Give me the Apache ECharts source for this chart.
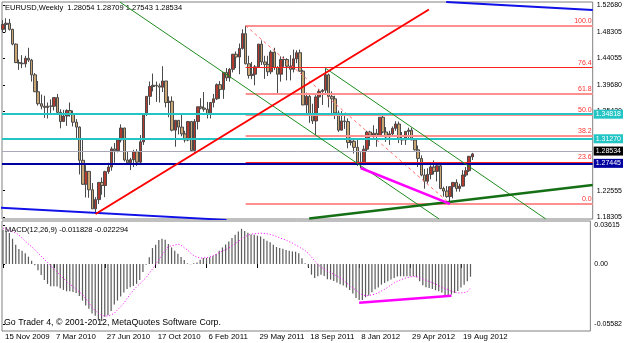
<!DOCTYPE html>
<html><head><meta charset="utf-8">
<script src="https://cdn.jsdelivr.net/npm/echarts@6/dist/echarts.min.js"></script>
<style>html,body{margin:0;padding:0;background:#fff}#c{width:625px;height:343px}</style>
</head><body><div id="c"></div>
<script>
// ---- weekly EURUSD candles, bar 0 = 15 Nov 2009 ----
const opens = [
1.4880,1.4960,1.4980,1.4880,1.4640,1.4340,1.4330,1.4320,1.4410,1.4380,
1.4140,1.3865,1.3670,1.3630,1.3610,1.3630,1.3630,1.3770,1.3530,1.3380,
1.3470,1.3560,1.3510,1.3370,1.3290,1.2750,1.2360,1.2570,1.2270,1.1960,
1.2110,1.2390,1.2340,1.2565,1.2640,1.2935,1.2905,1.3080,1.3275,1.2755,
1.2710,1.2760,1.2890,1.2720,1.3050,1.3495,1.3790,1.3950,1.3970,1.3960,
1.3940,1.4040,1.3690,1.3710,1.3240,1.3400,1.3290,1.3180,1.3080,1.3380,
1.2910,1.3380,1.3620,1.3600,1.3580,1.3500,1.3690,1.3750,1.3980,1.3900,
1.4180,1.4090,1.4230,1.4475,1.4430,1.4570,1.4810,1.4320,1.4130,1.4150,
1.4270,1.4640,1.4350,1.4310,1.4190,1.4510,1.4260,1.4150,1.4390,1.4390,
1.4280,1.4230,1.4400,1.4500,1.4200,1.3650,1.3790,1.3500,1.3390,1.3780,
1.3870,1.3890,1.4140,1.3790,1.3750,1.3520,1.3240,1.3390,1.3380,1.3040,
1.3060,1.2960,1.2720,1.2680,1.2930,1.3210,1.3160,1.3190,1.3150,1.3450,
1.3210,1.3130,1.3180,1.3270,1.3340,1.3100,1.3080,1.3220,1.3240,1.3080,
1.2920,1.2780,1.2510,1.2410,1.2520,1.2640,1.2570,1.2660,1.2290,1.2250,
1.2160,1.2320,1.2390,1.2290,1.2330,1.2510,1.2580,1.28054];
const highs = [
1.5030,1.5060,1.5050,1.4890,1.4650,1.4390,1.4460,1.4450,1.4580,1.4400,
1.4170,1.4040,1.3820,1.3800,1.3690,1.3740,1.3770,1.3830,1.3580,1.3570,
1.3580,1.3690,1.3560,1.3420,1.3300,1.3090,1.2670,1.2570,1.2380,1.2150,
1.2390,1.2470,1.2580,1.2710,1.2970,1.3030,1.3100,1.3335,1.3280,1.2900,
1.2790,1.2920,1.2930,1.3160,1.3500,1.3790,1.4030,1.4160,1.4030,1.4000,
1.4280,1.4040,1.3790,1.3790,1.3400,1.3400,1.3500,1.3230,1.3390,1.3390,
1.3420,1.3620,1.3760,1.3860,1.3700,1.3700,1.3830,1.4000,1.4040,1.4180,
1.4250,1.4250,1.4480,1.4520,1.4650,1.4880,1.4940,1.4450,1.4350,1.4300,
1.4640,1.4700,1.4450,1.4450,1.4540,1.4580,1.4280,1.4440,1.4440,1.4410,
1.4460,1.4550,1.4540,1.4550,1.4220,1.3850,1.3820,1.3670,1.3810,1.3910,
1.3910,1.4248,1.4160,1.3870,1.3800,1.3560,1.3550,1.3480,1.3430,1.3120,
1.3080,1.3080,1.2880,1.2990,1.3230,1.3230,1.3320,1.3260,1.3450,1.3486,
1.3290,1.3230,1.3300,1.3385,1.3380,1.3210,1.3220,1.3280,1.3280,1.3110,
1.2990,1.2830,1.2610,1.2620,1.2670,1.2747,1.2690,1.2690,1.2320,1.2330,
1.2320,1.2390,1.2440,1.2370,1.2590,1.2640,1.2820,1.28709];
const lows = [
1.4830,1.4830,1.4860,1.4620,1.4330,1.4220,1.4250,1.4260,1.4350,1.4030,
1.3860,1.3640,1.3580,1.3440,1.3430,1.3500,1.3560,1.3520,1.3270,1.3380,
1.3310,1.3460,1.3300,1.3110,1.2520,1.2350,1.2145,1.2140,1.1960,1.1876,
1.2040,1.2190,1.2150,1.2530,1.2580,1.2710,1.2880,1.3040,1.2730,1.2700,
1.2590,1.2640,1.2660,1.2690,1.3000,1.3470,1.3650,1.3870,1.3700,1.3690,
1.3860,1.3610,1.3450,1.3220,1.2970,1.3170,1.3140,1.3040,1.3060,1.2890,
1.2860,1.3250,1.3580,1.3540,1.3430,1.3430,1.3610,1.3730,1.3750,1.3750,
1.4040,1.4030,1.4180,1.4250,1.4150,1.4550,1.4310,1.4080,1.4070,1.3970,
1.4260,1.4300,1.4075,1.4120,1.4150,1.4220,1.3835,1.4030,1.4270,1.4050,
1.4050,1.4180,1.4330,1.4190,1.3650,1.3490,1.3360,1.3340,1.3145,1.3600,
1.3650,1.3840,1.3610,1.3480,1.3420,1.3210,1.3240,1.3260,1.2945,1.2990,
1.2860,1.2660,1.2624,1.2670,1.2900,1.2980,1.3100,1.2970,1.3150,1.3190,
1.3050,1.3000,1.3140,1.3230,1.3030,1.3000,1.3000,1.3110,1.3100,1.2910,
1.2640,1.2490,1.2288,1.2370,1.2440,1.2520,1.2406,1.2280,1.2160,1.2140,
1.2042,1.2130,1.2240,1.2240,1.2320,1.2480,1.2560,1.27543];
const closes = [
1.4960,1.4980,1.4880,1.4640,1.4340,1.4330,1.4320,1.4410,1.4380,1.4140,
1.3865,1.3670,1.3630,1.3610,1.3630,1.3630,1.3770,1.3530,1.3380,1.3470,
1.3560,1.3510,1.3370,1.3290,1.2750,1.2360,1.2570,1.2270,1.1960,1.2110,
1.2390,1.2340,1.2565,1.2640,1.2935,1.2905,1.3080,1.3275,1.2755,1.2710,
1.2760,1.2890,1.2720,1.3050,1.3495,1.3790,1.3950,1.3970,1.3960,1.3940,
1.4040,1.3690,1.3710,1.3240,1.3400,1.3290,1.3180,1.3080,1.3380,1.2910,
1.3380,1.3620,1.3600,1.3580,1.3500,1.3690,1.3750,1.3980,1.3900,1.4180,
1.4090,1.4230,1.4475,1.4430,1.4570,1.4810,1.4320,1.4130,1.4150,1.4270,
1.4640,1.4350,1.4310,1.4190,1.4510,1.4260,1.4150,1.4390,1.4390,1.4280,
1.4230,1.4400,1.4500,1.4200,1.3650,1.3790,1.3500,1.3390,1.3780,1.3870,
1.3890,1.4140,1.3790,1.3750,1.3520,1.3240,1.3390,1.3380,1.3040,1.3060,
1.2960,1.2720,1.2680,1.2930,1.3210,1.3160,1.3190,1.3150,1.3450,1.3210,
1.3130,1.3180,1.3270,1.3340,1.3100,1.3080,1.3220,1.3240,1.3080,1.2920,
1.2780,1.2510,1.2410,1.2520,1.2640,1.2570,1.2660,1.2290,1.2250,1.2160,
1.2320,1.2390,1.2290,1.2330,1.2510,1.2580,1.2815,1.28534];

// ---- MACD(12,26,9) main (histogram) and signal ----
const macdMain = [
.0318,.0309,.0287,.0235,.0179,.0139,.0124,.0099,.0068,.0031,
-.0012,-.0059,-.0102,-.0148,-.0185,-.0207,-.0207,-.0210,-.0226,-.0241,
-.0253,-.0253,-.0260,-.0269,-.0297,-.0340,-.0386,-.0417,-.0460,-.0482,
-.0519,-.0531,-.0491,-.0476,-.0436,-.0377,-.0340,-.0303,-.0266,-.0232,
-.0216,-.0204,-.0185,-.0148,-.0074,-.0006,.0062,.0148,.0179,.0222,
.0235,.0226,.0185,.0154,.0124,.0096,.0065,.0037,.0006,-.0003,
.0006,.0015,.0040,.0056,.0056,.0062,.0074,.0093,.0124,.0154,
.0182,.0210,.0241,.0272,.0303,.0327,.0306,.0290,.0275,.0272,
.0263,.0256,.0235,.0216,.0201,.0179,.0158,.0148,.0142,.0130,
.0124,.0117,.0114,.0099,.0053,.0006,-.0030,-.0099,-.0130,-.0114,
-.0099,-.0111,-.0142,-.0145,-.0158,-.0173,-.0188,-.0201,-.0219,-.0241,
-.0275,-.0315,-.0334,-.0334,-.0309,-.0293,-.0263,-.0235,-.0219,-.0192,
-.0176,-.0161,-.0145,-.0130,-.0117,-.0114,-.0114,-.0114,-.0114,-.0114,
-.0124,-.0161,-.0198,-.0216,-.0222,-.0232,-.0244,-.0253,-.0266,-.0287,
-.0297,-.0284,-.0269,-.0250,-.0219,-.0192,-.0161,-.011828];
const macdSignal = [
.0334,.0324,.0312,.0300,.0290,.0269,.0241,.0213,.0185,.0161,
.0133,.0102,.0074,.0043,.0015,-.0015,-.0046,-.0074,-.0105,-.0133,
-.0164,-.0185,-.0210,-.0235,-.0260,-.0284,-.0321,-.0362,-.0402,-.0433,
-.0460,-.0476,-.0485,-.0482,-.0473,-.0457,-.0426,-.0396,-.0365,-.0321,
-.0281,-.0244,-.0213,-.0185,-.0155,-.0127,-.0087,-.0046,-.0006,.0040,
.0083,.0124,.0161,.0170,.0176,.0185,.0173,.0151,.0130,.0102,
.0077,.0065,.0056,.0056,.0059,.0065,.0077,.0090,.0105,.0121,
.0133,.0148,.0170,.0188,.0210,.0232,.0253,.0266,.0278,.0281,
.0284,.0287,.0284,.0281,.0275,.0266,.0256,.0244,.0232,.0222,
.0207,.0195,.0176,.0161,.0142,.0124,.0099,.0065,.0028,-.0003,
-.0028,-.0049,-.0065,-.0080,-.0096,-.0111,-.0127,-.0148,-.0176,-.0201,
-.0222,-.0244,-.0269,-.0287,-.0294,-.0294,-.0287,-.0281,-.0266,-.0250,
-.0235,-.0216,-.0195,-.0176,-.0161,-.0148,-.0136,-.0127,-.0121,-.0114,
-.0117,-.0127,-.0139,-.0151,-.0164,-.0173,-.0185,-.0201,-.0216,-.0229,
-.0241,-.0253,-.0263,-.0269,-.0269,-.0266,-.0256,-.022294];

// ---- axis labels ----
const dateLabelBars = [0,16,32,48,64,80,96,112,128,144];
const dateLabels = ['15 Nov 2009','7 Mar 2010','27 Jun 2010','17 Oct 2010','6 Feb 2011','29 May 2011','18 Sep 2011','8 Jan 2012','29 Apr 2012','19 Aug 2012'];
const priceTicks = [1.52680,1.48305,1.44055,1.39680,1.35430,1.31055,1.26805,1.22555,1.18305];
const macdTicks = [0.03615,0,-0.05582];

// ---- chart objects (bar index, price) ----
const fibAnchors = [[76,1.4940],[140,1.2042]];
const fibLevelNames = ['100.0','76.4','61.8','50.0','38.2','23.6','0.0'];
const fibLevelPct = [100,76.4,61.8,50,38.2,23.6,0];
const cyanLevels = [1.34818,1.31270];
const navyLevel = 1.27445;
const bidLevel = 1.28534;
const redTrend = [[29,1.1876],[133.4,1.5203]];
const blueUpper = [[138.8,1.5325],[184.7,1.5195]];
const blueLower = [[-1,1.1979],[70,1.1780]];
const greenA = [[36.6,1.5325],[136.6,1.1795]];
const greenB = [[101,1.4248],[170,1.1795]];
const greenC = [[95.9,1.1803],[184.7,1.2348]];
const magentaPrice = [[112,1.2624],[140,1.2042]];
const magentaMacd = [[112,-0.0360],[141,-0.0295]];

const XMIN = -0.3125, XMAX = 184.69;
const FONT = 'Liberation Sans';
const candleData = opens.map((o,i)=>[i,o,closes[i],lows[i],highs[i]]);
const fibLo = fibAnchors[1][1], fibHi = fibAnchors[0][1];
const fibPrices = fibLevelPct.map(p=>fibLo+(fibHi-fibLo)*p/100);
const fibStyle = ['#ff9090','#ff2020','#ff9090','#ff9090','#ff9090','#ff2020','#ff9090'];
const fibWidth = [2,1,2,2,2,1,2];

function seg(data, color, width, type, z, xi, yi){
  return {type:'line', data:data, xAxisIndex:xi||0, yAxisIndex:yi||0, symbol:'none', showSymbol:false,
    silent:true, clip:true, z:z||5, animation:false,
    lineStyle:{color:color,width:width,type:type||'solid'}};
}
const boxLabel = (txt,bg,fg)=>({show:true,position:'end',distance:1,formatter:txt,backgroundColor:bg,color:fg,
  fontSize:7,fontFamily:FONT,padding:[1,2,0,2],lineHeight:8});

const chart = echarts.init(document.getElementById('c'),null,{renderer:'canvas'});
chart.setOption({
  animation:false,
  backgroundColor:'#ffffff',
  title:[
    {text:'EURUSD,Weekly  1.28054 1.28709 1.27543 1.28534',left:5,top:4,padding:0,
      textStyle:{fontSize:7.5,fontWeight:'normal',fontFamily:FONT,color:'#000'}},
    {text:'MACD(12,26,9) -0.011828 -0.022294',left:5,top:226,padding:0,
      textStyle:{fontSize:7.5,fontWeight:'normal',fontFamily:FONT,color:'#000'}},
    {text:'Go Trader 4, © 2001-2012, MetaQuotes Software Corp.',left:4,top:318,padding:0,
      textStyle:{fontSize:8.8,fontWeight:'normal',fontFamily:FONT,color:'#000'}}
  ],
  grid:[
    {left:2,top:2,width:592,height:217,show:true,borderColor:'#808080',borderWidth:1,backgroundColor:'transparent'},
    {left:2,top:221,width:592,height:110,show:true,borderColor:'#808080',borderWidth:1,backgroundColor:'transparent'}
  ],
  xAxis:[
    {type:'value',gridIndex:0,min:XMIN,max:XMAX,show:false},
    {type:'value',gridIndex:1,min:XMIN,max:XMAX,position:'bottom',
      axisLine:{show:false},splitLine:{show:false},
      axisTick:{show:true,customValues:dateLabelBars,length:4,lineStyle:{color:'#000'}},
      axisLabel:{customValues:dateLabelBars,formatter:v=>dateLabels[dateLabelBars.indexOf(v)]||'',
        align:'left',margin:2,padding:[0,0,0,2],fontSize:7.9,fontFamily:FONT,color:'#000'}}
  ],
  yAxis:[
    {type:'value',gridIndex:0,position:'right',min:1.17948,max:1.53249,scale:true,
      axisLine:{show:false},splitLine:{show:false},
      axisTick:{show:true,customValues:priceTicks,length:2,lineStyle:{color:'#000'}},
      axisLabel:{customValues:priceTicks,formatter:v=>v.toFixed(5),margin:4,fontSize:7,fontFamily:FONT,color:'#000'}},
    {type:'value',gridIndex:1,position:'right',min:-0.06227,max:0.03996,
      axisLine:{show:false},splitLine:{show:false},
      axisTick:{show:true,customValues:macdTicks,length:2,lineStyle:{color:'#000'}},
      axisLabel:{customValues:macdTicks,formatter:v=>v===0?'0.00':v.toFixed(5),margin:4,fontSize:7,fontFamily:FONT,color:'#000'}}
  ],
  series:[
    {type:'candlestick',xAxisIndex:0,yAxisIndex:0,data:candleData,encode:{x:0,y:[1,2,3,4]},
      barWidth:3,silent:true,z:2,
      itemStyle:{color:'#b23a2e',color0:'#c9a674',borderColor:'#4a4a4a',borderColor0:'#4a4a4a',borderWidth:1}},
    // fib levels and labelled horizontal lines
    {type:'line',xAxisIndex:0,yAxisIndex:0,data:[],silent:true,z:4,
      markLine:{silent:true,symbol:['none','none'],animation:false,z:4,
        data:fibPrices.map((p,k)=>[
          {coord:[fibAnchors[0][0],p],lineStyle:{color:fibStyle[k],width:fibWidth[k],type:'solid'},
            label:{show:true,position:'insideEndTop',formatter:fibLevelNames[k],color:'#ff3030',fontSize:7,fontFamily:FONT,distance:[1,1]}},
          {coord:[XMAX,p]}])}},
    seg(fibAnchors,'#ff6a6a',1,[3,3],5),
    {type:'line',xAxisIndex:0,yAxisIndex:0,data:[],silent:true,z:6,
      markLine:{silent:true,symbol:['none','none'],animation:false,z:6,
        data:[
          {yAxis:bidLevel,lineStyle:{color:'#a8a8b8',width:1,type:'solid'},label:boxLabel('1.28534','#000000','#ffffff')},
          {yAxis:navyLevel,lineStyle:{color:'#0000a0',width:2,type:'solid'},label:boxLabel('1.27445','#0000a0','#ffffff')},
          {yAxis:cyanLevels[0],lineStyle:{color:'#22c4c4',width:2,type:'solid'},label:boxLabel('1.34818','#22c4c4','#ffffff')},
          {yAxis:cyanLevels[1],lineStyle:{color:'#22c4c4',width:2,type:'solid'},label:boxLabel('1.31270','#22c4c4','#ffffff')}
        ]}},
    seg(greenA,'#1e8c1e',1,'solid',7),
    seg(greenB,'#1e8c1e',1,'solid',7),
    seg(greenC,'#157015',2.5,'solid',7),
    seg(blueUpper,'#1010e8',2,'solid',7),
    seg(blueLower,'#1010e8',2,'solid',7),
    seg(redTrend,'#ff0000',2,'solid',8),
    seg(magentaPrice,'#ff00ff',2.5,'solid',8),
    // MACD panel
    {type:'bar',xAxisIndex:1,yAxisIndex:1,data:macdMain.map((v,i)=>[i,v]),barWidth:1.2,silent:true,z:2,
      itemStyle:{color:'#5a5a5a'}},
    seg(macdSignal.map((v,i)=>[i,v]),'#ff00ff',1,[1,2],4,1,1),
    seg(magentaMacd,'#ff00ff',2.5,'solid',6,1,1)
  ]
});
</script></body></html>
